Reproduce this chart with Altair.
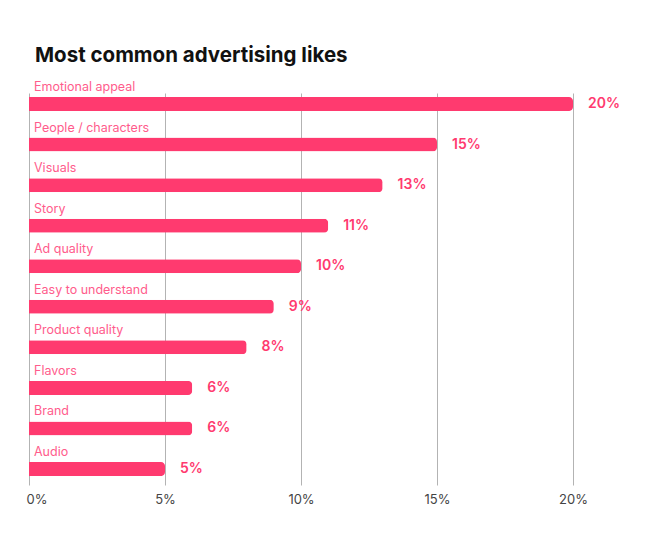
import altair as alt
import pandas as pd

categories = ["Emotional appeal", "People / characters", "Visuals", "Story", "Ad quality",
              "Easy to understand", "Product quality", "Flavors", "Brand", "Audio"]
values = [20, 15, 13, 11, 10, 9, 8, 6, 6, 5]
value_labels = ["20%", "15%", "13%", "11%", "10%", "9%", "8%", "6%", "6%", "5%"]
tick_values = [0, 5, 10, 15, 20]

df = pd.DataFrame({"category": categories, "value": values, "label": value_labels})

BAR = "#FF3A6F"
CAT = "#FF5C8C"
FONT = "Inter"

y = alt.Y("category:N", sort=categories, axis=None,
          scale=alt.Scale(paddingInner=0.6, paddingOuter=0.1325, align=0.27))
x = alt.X("value:Q", scale=alt.Scale(domain=[0, 20], nice=False),
          axis=alt.Axis(values=tick_values, labelExpr="datum.value + '%'", title=None,
                        domain=False, ticks=False, grid=True, gridColor="#b3b3b3",
                        gridWidth=1, labelFont=FONT, labelFontSize=13, labelColor="#444444",
                        labelPadding=8, labelFlush=False,
                        labelAlign=alt.condition("datum.value == 0", alt.value("left"),
                                                 alt.value("center")),
                        labelOffset=alt.condition("datum.value == 0", alt.value(-3),
                                                  alt.value(0))))

bars = alt.Chart(df).mark_bar(height=14, color=BAR, cornerRadiusTopRight=4,
                              cornerRadiusBottomRight=4).encode(x=x, y=y)
cats = alt.Chart(df).mark_text(align="left", baseline="alphabetic", dx=5, dy=-13,
                               font=FONT, fontSize=12.5, color=CAT).encode(
    x=alt.value(0), y=y, text="category:N")
vals = alt.Chart(df).mark_text(align="left", baseline="middle", dx=15, font=FONT,
                               fontSize=14, fontWeight=600, color=BAR).encode(
    x=x, y=y, text="label:N")

chart = alt.layer(bars, cats, vals).properties(
    width=544, height=392,
    title=alt.TitleParams("Most common advertising likes", anchor="start", font=FONT,
                          fontSize=20.5, fontWeight="bold", color="#111111", offset=15, dx=9),
    padding={"left": 18, "top": 37, "right": 5, "bottom": 5},
).configure_view(stroke=None)

chart.save("out.html", embed_options={"renderer": "svg", "actions": False})
